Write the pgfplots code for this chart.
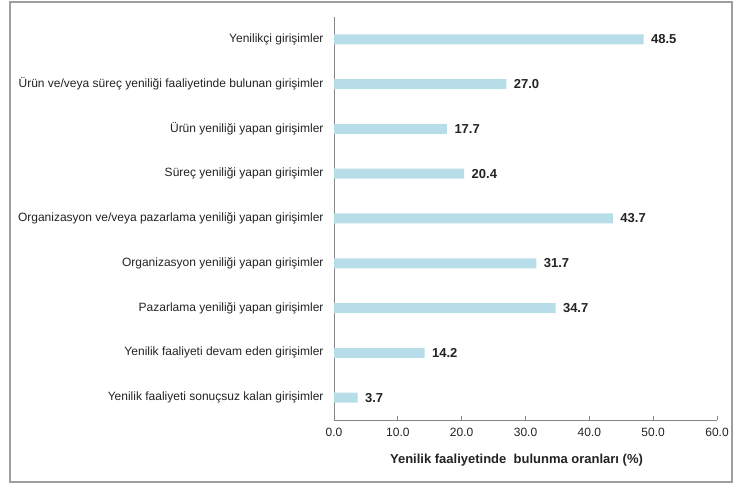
\documentclass[border=0pt]{standalone}
\usepackage{fontspec}
\setmainfont{Liberation Sans}
\usepackage{pgfplots}
\pgfplotsset{compat=1.18}
\definecolor{barblue}{RGB}{183,221,232}
\definecolor{axisgray}{RGB}{134,134,134}
\definecolor{txt}{RGB}{35,35,35}
\begin{document}
\begin{tikzpicture}[x=1bp,y=1bp]
\useasboundingbox (0,0) rectangle (734,484);
\draw[color=axisgray!80,line width=1.2bp] (10,2) rectangle (732,482);
\begin{axis}[
  at={(334bp,64bp)}, anchor=south west,
  scale only axis, width=383bp, height=403bp,
  xbar, bar width=10bp,
  xmin=0, xmax=60, xtick={0,10,...,60},
  ymin=-0.5, ymax=8.5, y dir=reverse,
  ytick={0,...,8},
  yticklabels={Yenilikçi girişimler,
    Ürün ve/veya süreç yeniliği faaliyetinde bulunan girişimler,
    Ürün yeniliği yapan girişimler,
    Süreç yeniliği yapan girişimler,
    Organizasyon ve/veya pazarlama yeniliği yapan girişimler,
    Organizasyon yeniliği yapan girişimler,
    Pazarlama yeniliği yapan girişimler,
    Yenilik faaliyeti devam eden girişimler,
    Yenilik faaliyeti sonuçsuz kalan girişimler},
  axis x line*=bottom, axis y line*=left,
  axis line style={color=axisgray, line width=0.8bp},
  x axis line style={-}, y axis line style={-},
  xtick align=inside, major tick length=4bp,
  xtick style={color=axisgray, line width=0.8bp},
  ytick style={draw=none},
  /pgf/number format/assume math mode=true,
  xticklabel={\pgfmathprintnumber[fixed,fixed zerofill,precision=1]{\tick}},
  xticklabel style={font=\fontsize{12bp}{14bp}\selectfont, text=txt, yshift=-5bp},
  yticklabel style={font=\fontsize{12bp}{14bp}\selectfont, text=txt, xshift=-3bp},
  xlabel={\textbf{Yenilik faaliyetinde\ \ bulunma oranları (\%)}},
  xlabel style={font=\fontsize{13bp}{15bp}\selectfont, text=txt, yshift=-10bp, xshift=-9bp},
  nodes near coords,
  nodes near coords style={font=\fontsize{13bp}{15bp}\selectfont\bfseries, text=txt,
    /pgf/number format/fixed, /pgf/number format/fixed zerofill, /pgf/number format/precision=1,
    xshift=4bp},
  clip=false,
]
\addplot[fill=barblue, draw=none] coordinates {
  (48.5,0) (27.0,1) (17.7,2) (20.4,3) (43.7,4) (31.7,5) (34.7,6) (14.2,7) (3.7,8)
};
\end{axis}
\end{tikzpicture}
\end{document}
